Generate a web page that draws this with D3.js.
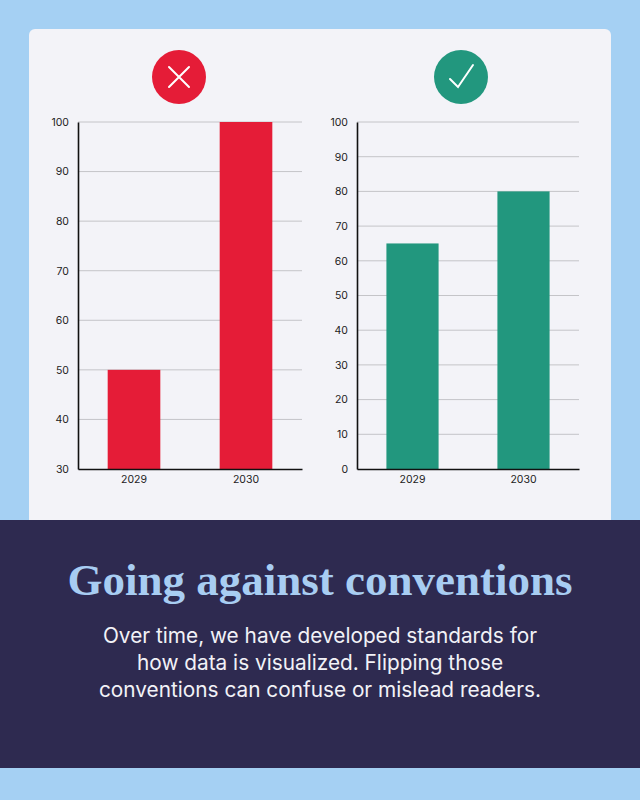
<!DOCTYPE html>
<html>
<head>
<meta charset="utf-8">
<title>Going against conventions</title>
<script src="https://cdn.jsdelivr.net/npm/d3@7"></script>
<style>
  html, body { margin: 0; padding: 0; background: #a5d0f3; }
  svg { display: block; }
</style>
</head>
<body>
<svg id="vis" width="640" height="800"></svg>
<script>
// data
var years = ["2029", "2030"];
var badValues = [50, 100];   // truncated axis, starts at 30
var goodValues = [65, 80];   // axis starts at 0
var badTicks = [30, 40, 50, 60, 70, 80, 90, 100];
var goodTicks = [0, 10, 20, 30, 40, 50, 60, 70, 80, 90, 100];
var titleText = "Going against conventions";
var bodyLines = [
  "Over time, we have developed standards for",
  "how data is visualized. Flipping those",
  "conventions can confuse or mislead readers."
];

var svg = d3.select("#vis");

// background pieces
svg.append("rect").attr("x", 0).attr("y", 0).attr("width", 640).attr("height", 800).attr("fill", "#a5d0f3");
svg.append("rect").attr("x", 29).attr("y", 29).attr("width", 582).attr("height", 500)
  .attr("rx", 6).attr("fill", "#f3f3f8");
svg.append("rect").attr("x", 0).attr("y", 520).attr("width", 640).attr("height", 248).attr("fill", "#2e2a50");

function drawChart(opts) {
  var x = d3.scaleBand().domain(years).range([opts.left, opts.right])
    .paddingInner(0.53).paddingOuter(0.265);
  var y = d3.scaleLinear().domain(opts.domain).range([469, 122]);

  var g = svg.append("g");

  // gridlines
  g.selectAll("line.grid").data(opts.ticks.slice(1)).enter().append("line")
    .attr("class", "grid")
    .attr("x1", opts.left).attr("x2", opts.right)
    .attr("y1", function (d) { return y(d); }).attr("y2", function (d) { return y(d); })
    .attr("stroke", "#c4c4c8").attr("stroke-width", 1);

  // bars
  g.selectAll("rect.bar").data(opts.values).enter().append("rect")
    .attr("class", "bar")
    .attr("x", function (d, i) { return x(years[i]); })
    .attr("width", x.bandwidth())
    .attr("y", function (d) { return y(d); })
    .attr("height", function (d) { return y(opts.domain[0]) - y(d); })
    .attr("fill", opts.color);

  // y axis
  var ya = g.append("g").attr("transform", "translate(" + opts.left + ",0)")
    .call(d3.axisLeft(y).tickValues(opts.ticks).tickSize(0).tickPadding(9));
  ya.select(".domain").attr("stroke", "#111").attr("stroke-width", 1.6);
  ya.selectAll("text").attr("font-family", "Inter, sans-serif").attr("font-size", 10.5).attr("fill", "#222");

  // x axis
  var xa = g.append("g").attr("transform", "translate(0,469)")
    .call(d3.axisBottom(x).tickSize(0).tickPadding(7));
  xa.select(".domain").attr("stroke", "#111").attr("stroke-width", 1.6);
  xa.selectAll("text").attr("font-family", "Inter, sans-serif").attr("font-size", 10.5).attr("fill", "#222");

  // badge
  var badge = svg.append("g").attr("transform", "translate(" + opts.badgeX + ",77)");
  badge.append("circle").attr("r", 27).attr("fill", opts.color);
  badge.append("path").attr("d", opts.icon)
    .attr("fill", "none").attr("stroke", "#fff").attr("stroke-width", 2).attr("stroke-linecap", "round");
}

drawChart({
  left: 78, right: 302, domain: [30, 100], ticks: badTicks, values: badValues,
  color: "#e51c37", badgeX: 179, icon: "M-10,-10 L10,10 M10,-10 L-10,10"
});
drawChart({
  left: 357, right: 579, domain: [0, 100], ticks: goodTicks, values: goodValues,
  color: "#22977e", badgeX: 461, icon: "M-11,2 L-3,10 L12,-12"
});

// title
svg.append("text").attr("x", 320).attr("y", 595).attr("text-anchor", "middle")
  .attr("font-family", "'Liberation Serif', serif").attr("font-weight", "bold")
  .attr("font-size", 45).attr("fill", "#a8cdf2")
  .text(titleText);

// body
svg.selectAll("text.body").data(bodyLines).enter().append("text")
  .attr("class", "body")
  .attr("x", 320).attr("y", function (d, i) { return 643 + i * 27; })
  .attr("text-anchor", "middle")
  .attr("font-family", "Inter, sans-serif").attr("font-size", 20.8)
  .attr("fill", "#f2f2f7")
  .text(function (d) { return d; });
</script>
</body>
</html>
